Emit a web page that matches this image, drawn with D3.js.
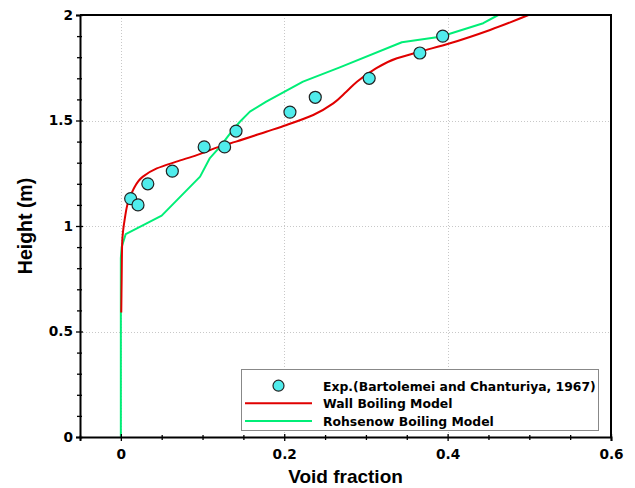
<!DOCTYPE html>
<html>
<head>
<meta charset="utf-8">
<script src="https://cdn.jsdelivr.net/npm/d3@7"></script>
<style>
  html, body { margin: 0; padding: 0; background: #fff; }
  svg { display: block; font-family: "Liberation Sans", Arial, sans-serif; }
</style>
</head>
<body>
<svg id="chart" width="635" height="488"></svg>
<script>
// Experimental void fraction (Bartolemei and Chanturiya, 1967)
const expVoid   = [0.012, 0.021, 0.033, 0.063, 0.102, 0.127, 0.141, 0.207, 0.238, 0.304, 0.366, 0.394];
const expHeight = [1.13, 1.10, 1.20, 1.26, 1.375, 1.375, 1.45, 1.54, 1.61, 1.70, 1.82, 1.90];

// Wall boiling model prediction
const wallVoid   = [0.0005, 0.001, 0.0016, 0.0049, 0.009, 0.015, 0.027, 0.044, 0.068, 0.093, 0.121, 0.141, 0.178, 0.203, 0.2355, 0.26, 0.276, 0.289, 0.309, 0.338, 0.366, 0.403, 0.452, 0.499];
const wallHeight = [0.59, 0.75, 0.918, 1.036, 1.115, 1.171, 1.234, 1.273, 1.305, 1.336, 1.376, 1.40, 1.447, 1.479, 1.526, 1.581, 1.636, 1.684, 1.739, 1.795, 1.826, 1.866, 1.929, 2.0];

// Rohsenow boiling model prediction
const rohVoid   = [0, 0, 0.001, 0.006, 0.050, 0.097, 0.109, 0.121, 0.1355, 0.1457, 0.158, 0.178, 0.223, 0.268, 0.344, 0.391, 0.4436, 0.462];
const rohHeight = [0, 0.848, 0.900, 0.962, 1.049, 1.234, 1.322, 1.374, 1.447, 1.494, 1.542, 1.589, 1.684, 1.752, 1.871, 1.897, 1.961, 2.0];

// Axis ticks
const xMajor = [0, 0.2, 0.4, 0.6];
const xMinor = [-0.05, 0.05, 0.1, 0.15, 0.25, 0.3, 0.35, 0.45, 0.5, 0.55];
const yMajor = [0, 0.5, 1, 1.5, 2];
const yMinor = [0.1, 0.2, 0.3, 0.4, 0.6, 0.7, 0.8, 0.9, 1.1, 1.2, 1.3, 1.4, 1.6, 1.7, 1.8, 1.9];
const xGrid = [0, 0.2, 0.4];
const yGrid = [0.5, 1, 1.5];

const legendLabels = [
  "Exp.(Bartolemei and Chanturiya, 1967)",
  "Wall Boiling Model",
  "Rohsenow Boiling Model"
];

const C_MARK = "#50ecec";
const C_WALL = "#e00000";
const C_ROH  = "#00ee77";
const WIDE_FONT = "'DejaVu Sans', Verdana, sans-serif";
const TITLE_FONT = "'Liberation Sans', Arial, sans-serif";

const svg = d3.select("#chart");
const plotL = 80, plotR = 611, plotT = 15, plotB = 437;

const x = d3.scaleLinear().domain([-0.05, 0.6]).range([plotL, plotR]);
const y = d3.scaleLinear().domain([0, 2]).range([plotB, plotT]);

// grid
const grid = svg.append("g").attr("stroke", "#c8c8c8").attr("stroke-width", 1).attr("stroke-dasharray", "1,2");
grid.selectAll(".gx").data(xGrid).join("line")
  .attr("x1", d => Math.round(x(d)) + 0.5).attr("x2", d => Math.round(x(d)) + 0.5)
  .attr("y1", plotT).attr("y2", plotB);
grid.selectAll(".gy").data(yGrid).join("line")
  .attr("y1", d => Math.round(y(d)) + 0.5).attr("y2", d => Math.round(y(d)) + 0.5)
  .attr("x1", plotL).attr("x2", plotR);

// curves
const pts = (xs, ys) => xs.map((v, i) => [v, ys[i]]);

svg.append("path")
  .datum(pts(rohVoid, rohHeight))
  .attr("fill", "none").attr("stroke", C_ROH).attr("stroke-width", 2)
  .attr("stroke-linejoin", "round")
  .attr("d", d3.line().x(d => x(d[0])).y(d => y(d[1])).curve(d3.curveLinear));

svg.append("path")
  .datum(pts(wallVoid, wallHeight))
  .attr("fill", "none").attr("stroke", C_WALL).attr("stroke-width", 2)
  .attr("d", d3.line().x(d => x(d[0])).y(d => y(d[1])).curve(d3.curveMonotoneY));

// experimental points
svg.append("g").selectAll("circle").data(pts(expVoid, expHeight)).join("circle")
  .attr("cx", d => x(d[0])).attr("cy", d => y(d[1])).attr("r", 6)
  .attr("fill", C_MARK).attr("stroke", "#222").attr("stroke-width", 1.2);

// frame (top, right)
svg.append("path")
  .attr("d", `M${plotL},${plotT}H${plotR}V${plotB}`)
  .attr("fill", "none").attr("stroke", "#000").attr("stroke-width", 2);

// axes
const fmt = d => String(d);
const xAxis = svg.append("g").attr("transform", `translate(0,${plotB})`)
  .call(d3.axisBottom(x).tickValues(xMajor).tickFormat(fmt).tickSize(4).tickPadding(8));
const xAxisMinor = svg.append("g").attr("transform", `translate(0,${plotB})`)
  .call(d3.axisBottom(x).tickValues(xMinor).tickFormat("").tickSize(3));
const yAxis = svg.append("g").attr("transform", `translate(${plotL},0)`)
  .call(d3.axisLeft(y).tickValues(yMajor).tickFormat(fmt).tickSize(4).tickPadding(3));
const yAxisMinor = svg.append("g").attr("transform", `translate(${plotL},0)`)
  .call(d3.axisLeft(y).tickValues(yMinor).tickFormat("").tickSize(3));

[xAxis, xAxisMinor, yAxis, yAxisMinor].forEach(g => {
  g.select(".domain").attr("stroke", "#000").attr("stroke-width", 2);
  g.selectAll(".tick line").attr("stroke", "#000").attr("stroke-width", 1.3);
  g.selectAll("text").attr("font-family", WIDE_FONT)
    .attr("font-size", 13.7).attr("font-weight", "bold").attr("fill", "#000");
});
// ticks cross the axis line
xAxis.selectAll(".tick line").attr("y1", -3);
xAxisMinor.selectAll(".tick line").attr("y1", -2);
yAxis.selectAll(".tick line").attr("x1", 3);
yAxisMinor.selectAll(".tick line").attr("x1", 2);
xAxisMinor.select(".domain").remove();
yAxisMinor.select(".domain").remove();

// axis titles
svg.append("text")
  .attr("x", (plotL + plotR) / 2).attr("y", 483)
  .attr("text-anchor", "middle").attr("font-family", TITLE_FONT)
  .attr("font-size", 19).attr("font-weight", "bold")
  .text("Void fraction");
svg.append("text")
  .attr("transform", "translate(31.5,226) rotate(-90)")
  .attr("text-anchor", "middle").attr("font-family", TITLE_FONT)
  .attr("font-size", 19.5).attr("font-weight", "bold")
  .text("Height (m)");

// legend
const lg = svg.append("g");
lg.append("rect").attr("x", 241.5).attr("y", 369.5).attr("width", 357).attr("height", 61)
  .attr("fill", "#fff").attr("stroke", "#888").attr("stroke-width", 1);
const rowY = [385.7, 403.3, 421];
lg.append("circle").attr("cx", 278.5).attr("cy", rowY[0]).attr("r", 5.5)
  .attr("fill", C_MARK).attr("stroke", "#222").attr("stroke-width", 1.2);
lg.append("line").attr("x1", 245).attr("x2", 312).attr("y1", rowY[1]).attr("y2", rowY[1])
  .attr("stroke", C_WALL).attr("stroke-width", 2);
lg.append("line").attr("x1", 245).attr("x2", 312).attr("y1", rowY[2]).attr("y2", rowY[2])
  .attr("stroke", C_ROH).attr("stroke-width", 2);
lg.selectAll(".lt").data(legendLabels).join("text")
  .attr("x", 323).attr("y", (d, i) => rowY[i] + 4.8)
  .attr("font-family", WIDE_FONT)
  .attr("font-size", 12.4).attr("font-weight", "bold").text(d => d);
</script>
</body>
</html>
